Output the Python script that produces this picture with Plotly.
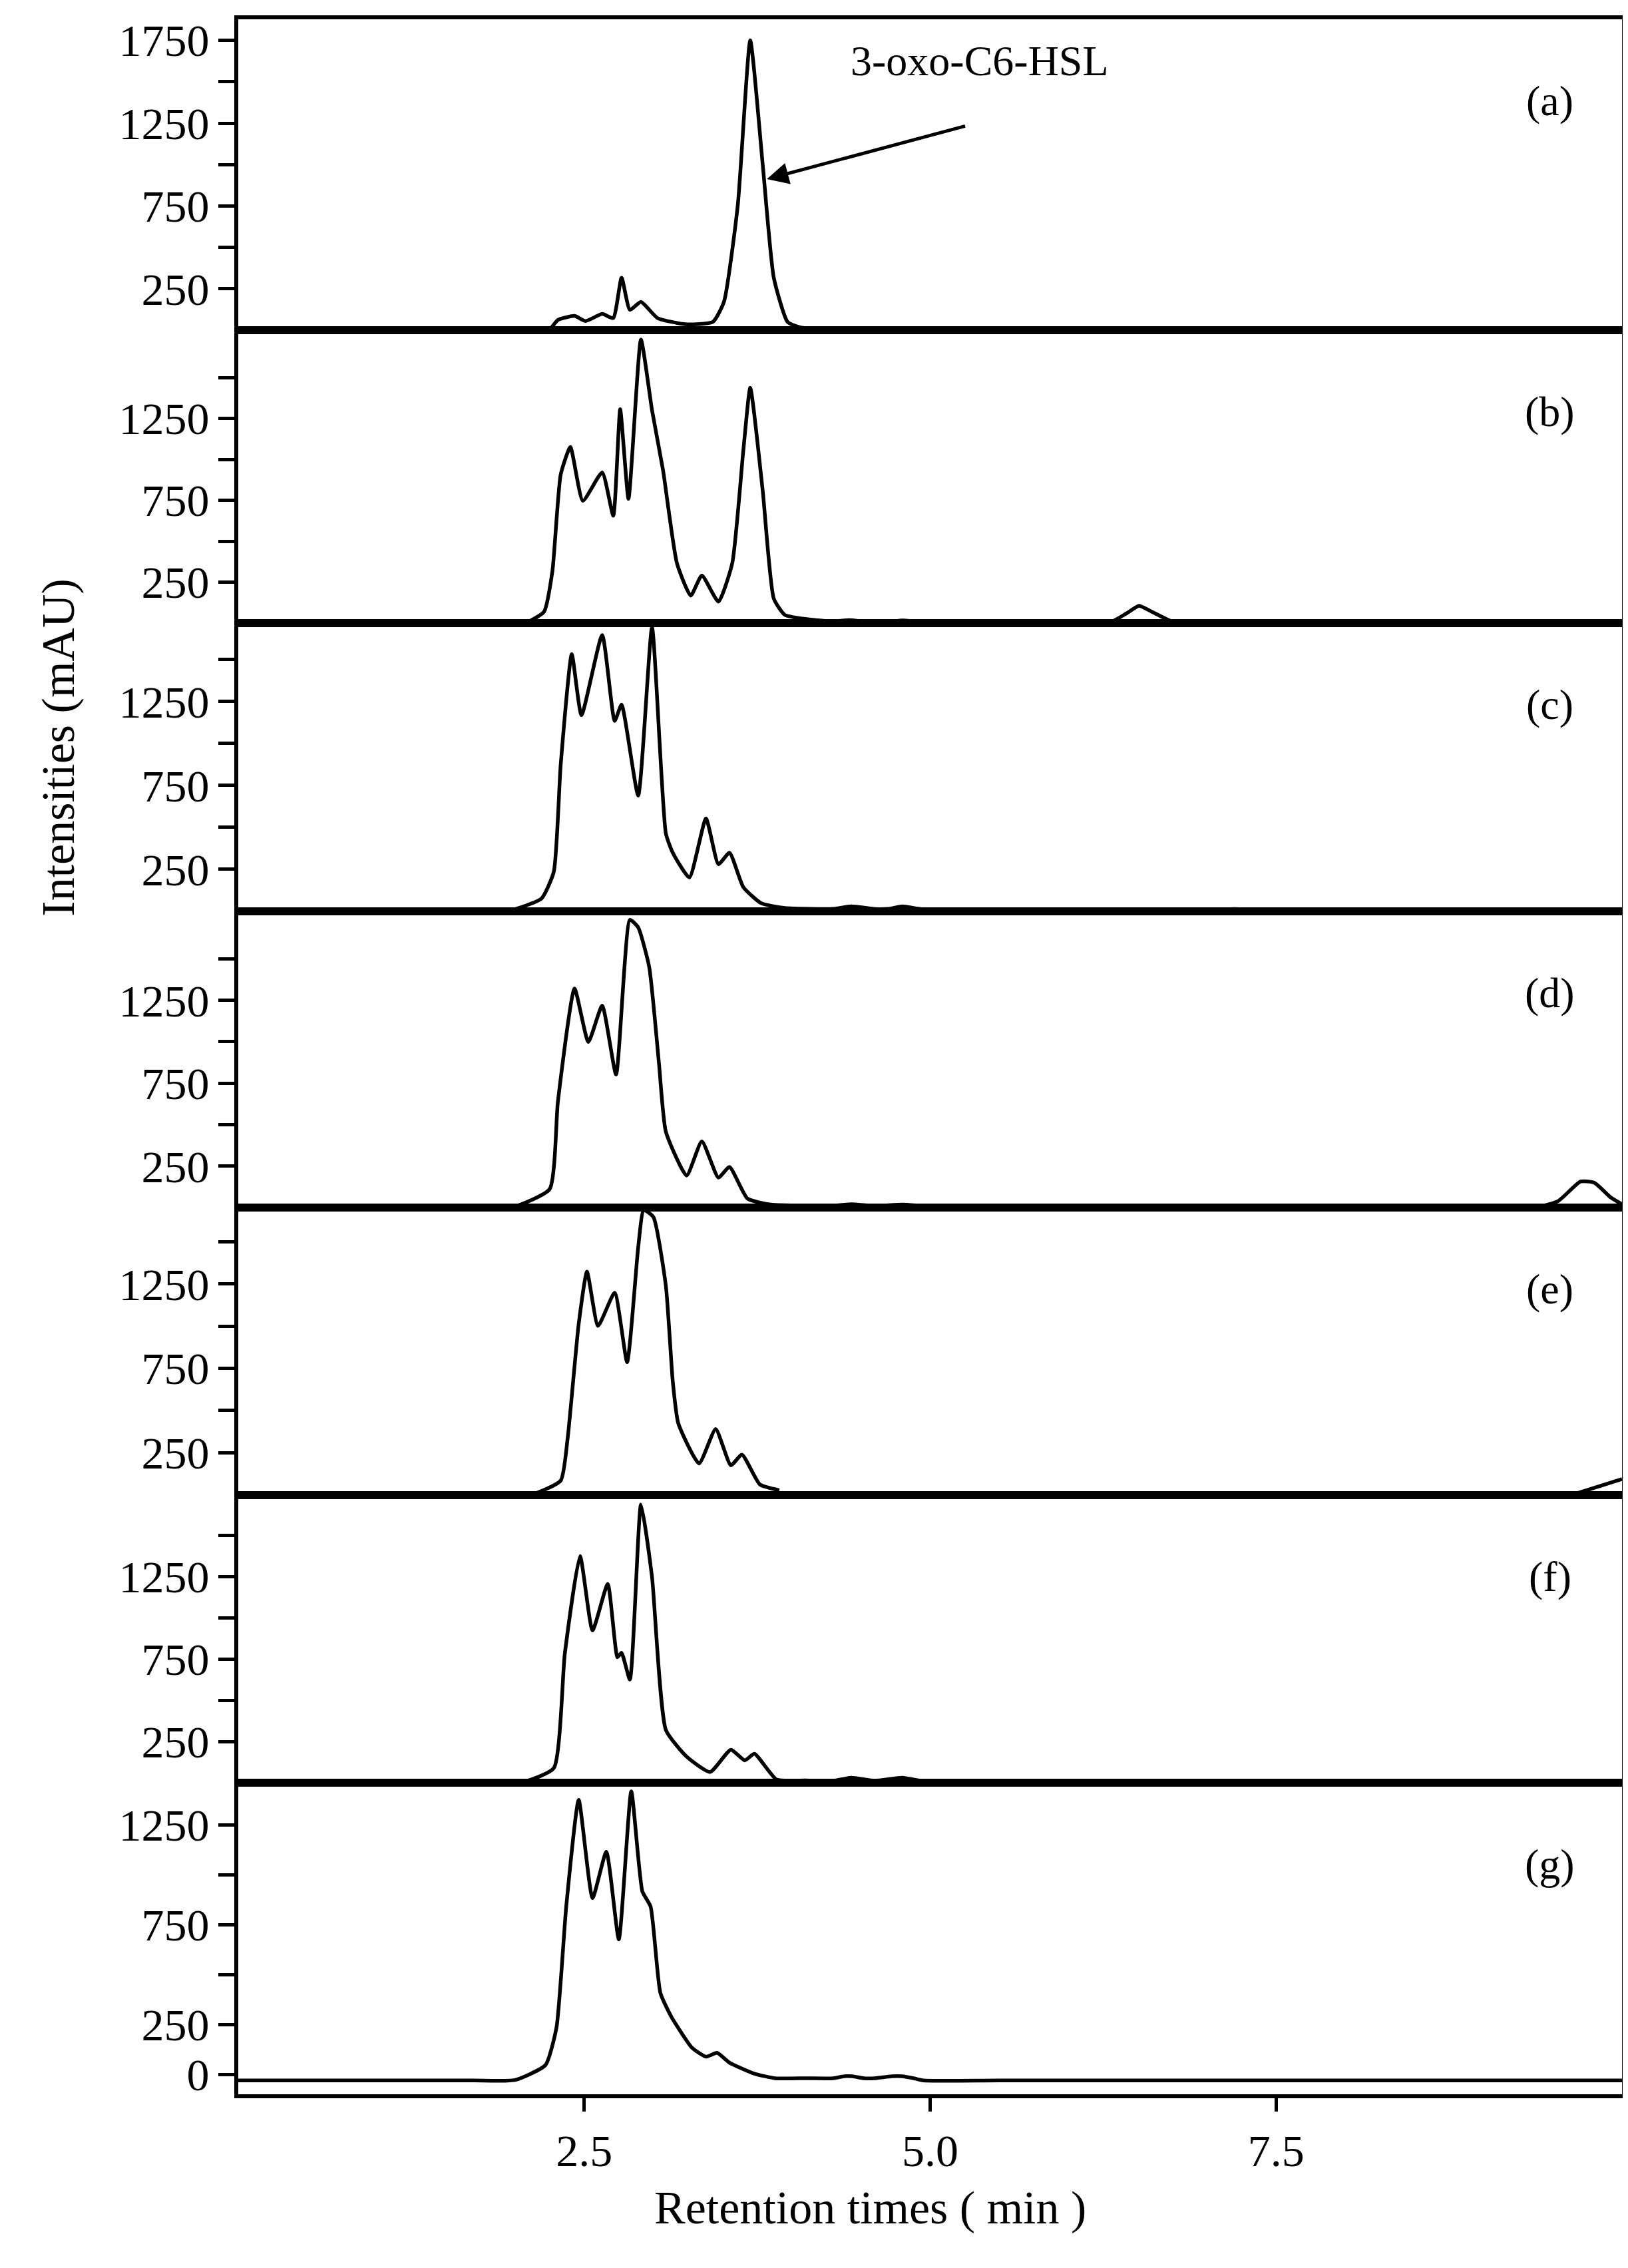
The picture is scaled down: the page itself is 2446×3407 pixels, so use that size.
import plotly.graph_objects as go
from plotly.subplots import make_subplots

panel_labels = ["(a)", "(b)", "(c)", "(d)", "(e)", "(f)", "(g)"]

t_a = [0.0, 1.0, 2.0, 2.20, 2.25, 2.31, 2.43, 2.51, 2.63, 2.71, 2.77, 2.83, 2.91, 3.03, 3.23, 3.43, 3.51, 3.61, 3.70, 3.79, 3.87, 3.97, 4.07, 4.4, 5.0, 6.0, 8.0, 10.0]
i_a = [0, 0, 0, 0, 5, 62, 86, 55, 98, 73, 317, 123, 171, 73, 36, 50, 171, 756, 1750, 1000, 317, 50, 15, 6, 5, 4, 3, 2]

t_b = [0.0, 1.0, 1.8, 2.07, 2.21, 2.27, 2.33, 2.40, 2.49, 2.63, 2.71, 2.76, 2.82, 2.91, 2.99, 3.07, 3.17, 3.27, 3.35, 3.47, 3.57, 3.65, 3.70, 3.79, 3.87, 3.95, 4.15, 4.30, 4.41, 4.55, 4.70, 4.80, 4.95, 5.5, 6.30, 6.42, 6.51, 6.60, 6.75, 7.0, 8.5, 10.0]
i_b = [0, 0, 0, 0, 70, 316, 907, 1075, 747, 920, 656, 1306, 759, 1732, 1301, 932, 366, 168, 291, 131, 366, 1055, 1437, 809, 150, 50, 20, 10, 18, 8, 8, 16, 6, 5, 5, 60, 106, 70, 10, 4, 3, 3]

t_c = [0.0, 1.0, 1.7, 1.96, 2.19, 2.28, 2.33, 2.41, 2.48, 2.63, 2.72, 2.77, 2.89, 2.99, 3.09, 3.14, 3.26, 3.38, 3.47, 3.55, 3.65, 3.78, 3.95, 4.30, 4.43, 4.60, 4.70, 4.80, 4.95, 6.0, 7.0, 7.2, 7.4, 8.5, 10.0]
i_c = [0, 0, 2, 5, 75, 235, 873, 1533, 1169, 1647, 1135, 1232, 690, 1693, 464, 349, 202, 553, 281, 349, 144, 48, 20, 15, 30, 14, 15, 30, 12, 9, 8, 14, 8, 6, 6]

t_d = [0.0, 1.0, 1.7, 1.99, 2.25, 2.31, 2.43, 2.53, 2.63, 2.73, 2.83, 2.89, 2.97, 3.04, 3.09, 3.24, 3.35, 3.47, 3.55, 3.68, 3.85, 4.30, 4.43, 4.60, 4.80, 5.0, 6.5, 8.0, 9.40, 9.54, 9.70, 9.80, 9.92, 10.0]
i_d = [0, 0, 2, 5, 111, 641, 1321, 999, 1218, 803, 1736, 1690, 1450, 872, 458, 193, 400, 181, 245, 54, 18, 12, 20, 10, 18, 8, 6, 6, 6, 40, 157, 150, 60, 20]

t_e = [0.0, 1.0, 1.8, 2.13, 2.33, 2.38, 2.46, 2.52, 2.60, 2.72, 2.81, 2.89, 2.93, 3.00, 3.09, 3.14, 3.18, 3.33, 3.45, 3.56, 3.64, 3.77, 3.91, None, 9.66, 10.0]
i_e = [0, 0, 2, 5, 84, 333, 1013, 1324, 1002, 1199, 787, 1467, 1689, 1648, 1240, 673, 424, 186, 390, 175, 238, 61, 27, None, 5, 93]

t_f = [0.0, 1.0, 1.7, 2.06, 2.28, 2.36, 2.47, 2.56, 2.67, 2.74, 2.77, 2.83, 2.91, 2.99, 3.09, 3.24, 3.41, 3.56, 3.66, 3.73, 3.89, 4.10, 4.30, 4.43, 4.60, 4.80, 4.95, 6.0, 8.0, 10.0]
i_f = [0, 0, 2, 5, 88, 783, 1373, 922, 1204, 760, 787, 625, 1685, 1246, 320, 158, 65, 200, 135, 175, 19, 14, 12, 30, 12, 30, 10, 6, 5, 4]

t_g = [0.0, 1.0, 1.7, 2.00, 2.22, 2.30, 2.37, 2.46, 2.56, 2.66, 2.75, 2.84, 2.92, 2.98, 3.05, 3.13, 3.28, 3.38, 3.46, 3.55, 3.73, 3.88, 4.10, 4.30, 4.38, 4.44, 4.52, 4.60, 4.72, 4.80, 4.88, 4.95, 5.5, 7.0, 8.5, 10.0]
i_g = [-29, -29, -29, -27, 48, 237, 840, 1374, 883, 1115, 676, 1417, 917, 840, 410, 289, 134, 90, 109, 60, 5, -18, -18, -18, -8, -8, -18, -18, -8, -8, -18, -29, -29, -29, -29, -29]

times = [t_a, t_b, t_c, t_d, t_e, t_f, t_g]
intens = [i_a, i_b, i_c, i_d, i_e, i_f, i_g]

y_ranges = [[0, 1877], [0, 1789], [0, 1718], [0, 1787], [0, 1704], [0, 1744], [-98, 1460]]
y_tickvals = [[250, 500, 750, 1000, 1250, 1500, 1750]] + [[250, 500, 750, 1000, 1250, 1500]] * 5 + [[0, 250, 500, 750, 1000, 1250]]
y_ticktext = [["250", "", "750", "", "1250", "", "1750"]] + [["250", "", "750", "", "1250", ""]] * 5 + [["0", "250", "", "750", "", "1250"]]
x_tickvals = [2.5, 5.0, 7.5]
x_ticktext = ["2.5", "5.0", "7.5"]

heights = [467, 440, 433, 445, 431.5, 432.5, 468]
fig = make_subplots(rows=7, cols=1, shared_xaxes=True, vertical_spacing=0,
                    row_heights=[h / sum(heights) for h in heights])

FONT = "Liberation Serif"
for k in range(7):
    fig.add_trace(go.Scatter(x=times[k], y=intens[k], mode="lines",
                             line=dict(color="black", width=5.5, shape="spline", smoothing=0.5),
                             connectgaps=False, showlegend=False), row=k + 1, col=1)
    fig.update_yaxes(range=y_ranges[k], tickvals=y_tickvals[k], ticktext=y_ticktext[k],
                     ticks="outside", ticklen=24, tickwidth=5, tickcolor="black",
                     showline=True, linewidth=6, linecolor="black", mirror=True,
                     showgrid=False, zeroline=False,
                     tickfont=dict(family=FONT, size=68, color="black"), row=k + 1, col=1)
    fig.update_xaxes(range=[0, 10], showline=True, linewidth=6, linecolor="black", mirror=True,
                     showgrid=False, zeroline=False, tickvals=x_tickvals, ticktext=x_ticktext,
                     ticks="outside" if k == 6 else "", ticklen=20, tickwidth=5, tickcolor="black",
                     showticklabels=(k == 6),
                     tickfont=dict(family=FONT, size=68, color="black"), row=k + 1, col=1)
    yref = "y domain" if k == 0 else f"y{k + 1} domain"
    xref = "x" if k == 0 else f"x{k + 1}"
    fig.add_annotation(x=9.48, y=1 - 85 / heights[k], xref=xref, yref=yref, text=panel_labels[k],
                       showarrow=False, font=dict(family=FONT, size=64, color="black"))

fig.add_annotation(x=3.82, y=912, ax=5.26, ay=1234, xref="x", yref="y", axref="x", ayref="y",
                   text="", showarrow=True, arrowhead=2, arrowsize=1.3, arrowwidth=5, arrowcolor="black")
fig.add_annotation(x=5.36, y=1624, xref="x", yref="y", text="3-oxo-C6-HSL", showarrow=False,
                   font=dict(family=FONT, size=64, color="black"))

fig.add_annotation(x=-0.15, y=(3138 - 1115) / (3138 - 21), xref="paper", yref="paper",
                   text="Intensities (mAU)", textangle=-90, showarrow=False,
                   font=dict(family=FONT, size=70, color="black"))
fig.add_annotation(x=(1299 - 350) / (2429 - 350), y=-(3349 - 3138) / (3138 - 21), xref="paper", yref="paper",
                   text="Retention times ( min )", showarrow=False,
                   font=dict(family=FONT, size=70, color="black"))

fig.update_layout(width=2446, height=3407, margin=dict(l=350, r=17, t=21, b=269),
                  paper_bgcolor="white", plot_bgcolor="white")
fig.write_html("out.html")
